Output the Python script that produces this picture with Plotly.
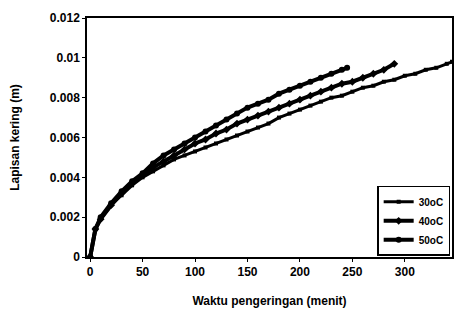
import plotly.graph_objects as go

t30 = [0, 5, 10, 20, 30, 40, 50, 60, 70, 80, 90, 100, 110, 120, 130, 140, 150, 160, 170, 180,
       190, 200, 210, 220, 230, 240, 250, 260, 270, 280, 290, 300, 310, 320, 330, 340, 345]
y30 = [0, 0.0014, 0.0019, 0.0026, 0.0031, 0.0036, 0.0040, 0.0043, 0.0046, 0.0049, 0.0051, 0.0053,
       0.0055, 0.0057, 0.0059, 0.0061, 0.0063, 0.0065, 0.0067, 0.0070, 0.0072, 0.0074, 0.0076,
       0.0078, 0.0080, 0.0081, 0.0083, 0.0085, 0.0086, 0.0088, 0.0089, 0.0091, 0.0092, 0.0094,
       0.0095, 0.0097, 0.0098]

t40 = [0, 5, 10, 20, 30, 40, 50, 60, 70, 80, 90, 100, 110, 120, 130, 140, 150, 160, 170, 180,
       190, 200, 210, 220, 230, 240, 250, 260, 270, 280, 290]
y40 = [0, 0.0014, 0.0019, 0.0026, 0.0032, 0.0037, 0.0041, 0.0045, 0.0048, 0.0051, 0.0054, 0.0057,
       0.0059, 0.0062, 0.0064, 0.0067, 0.0069, 0.0071, 0.0073, 0.0075, 0.0077, 0.0079, 0.0081,
       0.0083, 0.0085, 0.0087, 0.0088, 0.0090, 0.0092, 0.0094, 0.0097]

t50 = [0, 5, 10, 20, 30, 40, 50, 60, 70, 80, 90, 100, 110, 120, 130, 140, 150, 160, 170, 180,
       190, 200, 210, 220, 230, 240, 245]
y50 = [0, 0.0014, 0.0020, 0.0027, 0.0033, 0.0038, 0.0042, 0.0047, 0.0051, 0.0054, 0.0057, 0.0060,
       0.0063, 0.0066, 0.0069, 0.0072, 0.0075, 0.0077, 0.0079, 0.0082, 0.0084, 0.0086, 0.0088,
       0.0090, 0.0092, 0.0094, 0.0095]

series_names = ["30oC", "40oC", "50oC"]
x_ticks = [0, 50, 100, 150, 200, 250, 300]
y_ticks = [0, 0.002, 0.004, 0.006, 0.008, 0.01, 0.012]
y_tick_text = ["0", "0.002", "0.004", "0.006", "0.008", "0.01", "0.012"]

font_fam = "Liberation Sans, Arial, sans-serif"

fig = go.Figure()
styles = [
    (t30, y30, "square", 3, 4),
    (t40, y40, "diamond", 4, 6),
    (t50, y50, "circle", 4, 6),
]
for name, (tx, ty, sym, lw, ms) in zip(series_names, styles):
    fig.add_trace(go.Scatter(
        x=tx, y=ty, name=name, mode="lines+markers",
        line=dict(color="black", width=lw),
        marker=dict(color="black", symbol=sym, size=ms),
    ))

fig.update_layout(
    width=458, height=313,
    margin=dict(l=87, r=6, t=18, b=56),
    paper_bgcolor="white", plot_bgcolor="white",
    font=dict(family=font_fam, color="black", size=12, weight="bold"),
    showlegend=True,
    legend=dict(
        x=0.995, y=0.005, xanchor="right", yanchor="bottom",
        bgcolor="white", bordercolor="black", borderwidth=1.5,
        font=dict(size=10, family=font_fam, weight="bold"),
        tracegroupgap=0, itemwidth=30,
    ),
    xaxis=dict(
        range=[-3, 345], tickvals=x_ticks, showgrid=False, zeroline=False,
        showline=True, linecolor="black", linewidth=1.5, mirror=True,
        ticks="outside", ticklen=3, tickcolor="black", automargin=False,
        tickfont=dict(size=12, weight="bold"),
        title=dict(text="Waktu pengeringan (menit)", font=dict(size=12, weight="bold"), standoff=18),
    ),
    yaxis=dict(
        range=[0, 0.012], tickvals=y_ticks, ticktext=y_tick_text, showgrid=False, zeroline=False,
        showline=True, linecolor="black", linewidth=1.5, mirror=True,
        ticks="outside", ticklen=3, tickcolor="black", automargin=False,
        tickfont=dict(size=12, weight="bold"),
        title=dict(text="Lapisan kering (m)", font=dict(size=12, weight="bold"), standoff=28),
    ),
)

fig.write_html("out.html", config={"displayModeBar": False},
               post_script="document.body.style.margin='0';")
